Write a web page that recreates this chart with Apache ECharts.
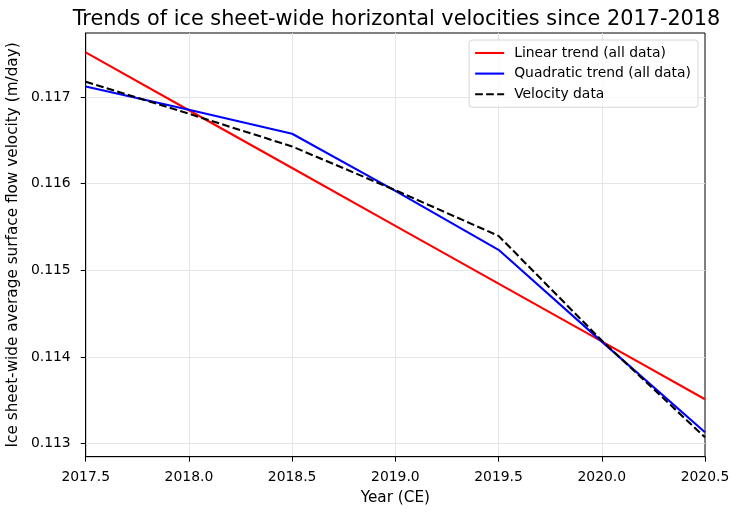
<!DOCTYPE html>
<html>
<head>
<meta charset="utf-8">
<script src="https://cdn.jsdelivr.net/npm/echarts@6/dist/echarts.min.js"></script>
<style>
html,body{margin:0;padding:0;background:#fff;}
#c{width:739px;height:516px;}
</style>
</head>
<body>
<div id="c"></div>
<script>
var years = [2017.5, 2018.0, 2018.5, 2019.0, 2019.5, 2020.0, 2020.5];
var linearTrend = [0.117515, 0.116848, 0.116181, 0.115514, 0.114847, 0.114180, 0.113513];
var quadraticTrend = [0.117122, 0.116853, 0.116576, 0.115918, 0.115237, 0.114178, 0.113132];
var velocityData = [0.117177, 0.116807, 0.116430, 0.115925, 0.115398, 0.114190, 0.113074];
var seriesNames = ['Linear trend (all data)', 'Quadratic trend (all data)', 'Velocity data'];
var titleText = 'Trends of ice sheet-wide horizontal velocities since 2017-2018';
var xName = 'Year (CE)';
var yName = 'Ice sheet-wide average surface flow velocity (m/day)';

function pairs(v){ return years.map(function(y,i){ return [y, v[i]]; }); }

var font = 'DejaVu Sans';
var legendColors = ['#ff0000', '#0000ff', '#000000'];
var legendTypes = ['solid', 'solid', [7.7, 3.3]];
var chart = echarts.init(document.getElementById('c'), null, {renderer:'canvas'});
chart.setOption({
  animation:false,
  backgroundColor:'#fff',
  textStyle:{fontFamily:font},
  title:{
    text:titleText, left:391.5, top:4, textAlign:'center',
    textStyle:{fontFamily:font, fontSize:20.8, fontWeight:'normal', color:'#000'}
  },
  legend:{
    orient:'vertical', right:41, top:40,
    padding:[6,7,6,5], itemGap:6.6, itemWidth:29, itemHeight:14,
    backgroundColor:'rgba(255,255,255,0.8)', borderColor:'#d6d6d6', borderWidth:1, borderRadius:3,
    itemStyle:{opacity:0},
    textStyle:{fontFamily:font, fontSize:13.9, color:'#000', padding:[0,0,0,5]},
    data:seriesNames.map(function(n,i){
      return {name:n, lineStyle:{width:2.1, color:legendColors[i], type:legendTypes[i]}};
    })
  },
  grid:{left:85.7, right:34, top:33, bottom:59.3, show:true, borderColor:'#000', borderWidth:1,
    backgroundColor:'transparent', containLabel:false, outerBoundsMode:'none'},
  xAxis:{
    type:'value', min:2017.5, max:2020.5, interval:0.5,
    name:xName, nameLocation:'middle', nameGap:33.7,
    nameTextStyle:{fontFamily:font, fontSize:15.28, color:'#000'},
    axisLine:{show:true, lineStyle:{color:'#000', width:1}},
    axisTick:{show:true, length:5, lineStyle:{color:'#000'}},
    axisLabel:{fontFamily:font, fontSize:13.9, color:'#000', margin:14, formatter:function(v){return v.toFixed(1);}},
    splitLine:{show:true, showMinLine:false, showMaxLine:false, lineStyle:{color:'#e3e6e6', width:1}}
  },
  yAxis:{
    type:'value', min:0.11285, max:0.117739, splitNumber:5,
    name:yName, nameLocation:'middle', nameGap:62.1,
    nameTextStyle:{fontFamily:font, fontSize:15.28, color:'#000'},
    axisLine:{show:true, lineStyle:{color:'#000', width:1}},
    axisTick:{show:true, length:5, lineStyle:{color:'#000'}},
    axisLabel:{fontFamily:font, fontSize:13.9, color:'#000', margin:15, showMinLabel:false, showMaxLabel:false,
      formatter:function(v){return v.toFixed(3);}},
    splitLine:{show:true, showMinLine:false, showMaxLine:false, lineStyle:{color:'#e3e6e6', width:1}}
  },
  series:[
    {name:seriesNames[0], type:'line', data:pairs(linearTrend), symbol:'none', z:2,
      lineStyle:{color:'#ff0000', width:2.1}, itemStyle:{color:'#ff0000'}},
    {name:seriesNames[1], type:'line', data:pairs(quadraticTrend), symbol:'none', z:3,
      lineStyle:{color:'#0000ff', width:2.1}, itemStyle:{color:'#0000ff'}},
    {name:seriesNames[2], type:'line', data:pairs(velocityData), symbol:'none', z:4,
      lineStyle:{color:'#000000', width:2.1, type:[7.7,3.3]}, itemStyle:{color:'#000000'}}
  ]
});
</script>
</body>
</html>
